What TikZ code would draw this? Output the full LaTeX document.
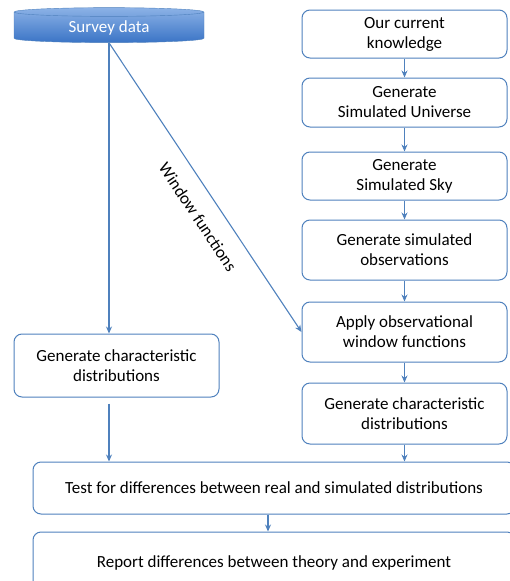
\documentclass[tikz,border=0pt]{standalone}
\usepackage{fontspec}
\setmainfont{Carlito}
\usepackage{tikz}
\usetikzlibrary{arrows.meta}
\usetikzlibrary{shapes.geometric}
\definecolor{boxblue}{RGB}{79,129,189}
\definecolor{toplight}{RGB}{140,178,230}
\definecolor{botdark}{RGB}{58,116,198}

\begin{document}
\begin{tikzpicture}[x=1pt,y=-1pt,
    stage/.style={draw=boxblue, line width=1pt, rounded corners=8pt, fill=white, align=center,
        minimum width=205pt, font=\fontsize{17}{20}\selectfont},
    flow/.style={boxblue, line width=1.1pt, -{Stealth[length=7pt,width=6pt]}}]
\useasboundingbox (0,0) rectangle (510,581);
\node[cylinder, shape border rotate=90, aspect=0.1, minimum width=190pt, minimum height=35pt,
    draw=boxblue, top color=toplight, bottom color=botdark, text=white,
    font=\fontsize{17}{20}\selectfont] (survey) at (109,28) {Survey data};
\node[stage, minimum height=48pt] (knowledge) at (404.5,34) {Our current\\knowledge};
\node[stage, minimum height=49pt] (universe) at (404.5,102.5) {Generate\\Simulated Universe};
\node[stage, minimum height=48pt] (sky) at (404.5,176) {Generate\\Simulated Sky};
\node[stage, minimum height=60pt] (observe) at (404.5,250) {Generate simulated\\observations};
\node[stage, minimum height=60pt] (window) at (404.5,332) {Apply observational\\window functions};
\node[stage, minimum height=61pt] (simchar) at (404.5,413.5) {Generate characteristic\\distributions};
\node[stage, minimum height=63pt] (realchar) at (116.5,365.5) {Generate characteristic\\distributions};
\node[stage, minimum width=482pt, minimum height=52pt] (compare) at (274,488) {Test for differences between real and simulated distributions};
\node[stage, minimum width=482pt, minimum height=62pt] (report) at (274,563) {Report differences between theory and experiment};
\node[rotate=-56.3, font=\fontsize{17}{20}\selectfont] (winlabel) at (198,217) {Window functions};
% real data branch
\draw[flow] (survey.south) -- (survey.south |- realchar.north);
\draw[flow] (survey.south) -- (window.west);
\draw[flow, shorten <=6pt] (realchar.south -| survey.south) -- (compare.north -| survey.south);
% simulation chain
\draw[flow] (knowledge) -- (universe);
\draw[flow] (universe) -- (sky);
\draw[flow] (sky) -- (observe);
\draw[flow] (observe) -- (window);
\draw[flow] (window) -- (simchar);
\draw[flow] (simchar) -- (compare.north -| simchar.south);
\draw[flow] ([xshift=-6pt]compare.south) -- ([xshift=-6pt]report.north);
\end{tikzpicture}
\end{document}
